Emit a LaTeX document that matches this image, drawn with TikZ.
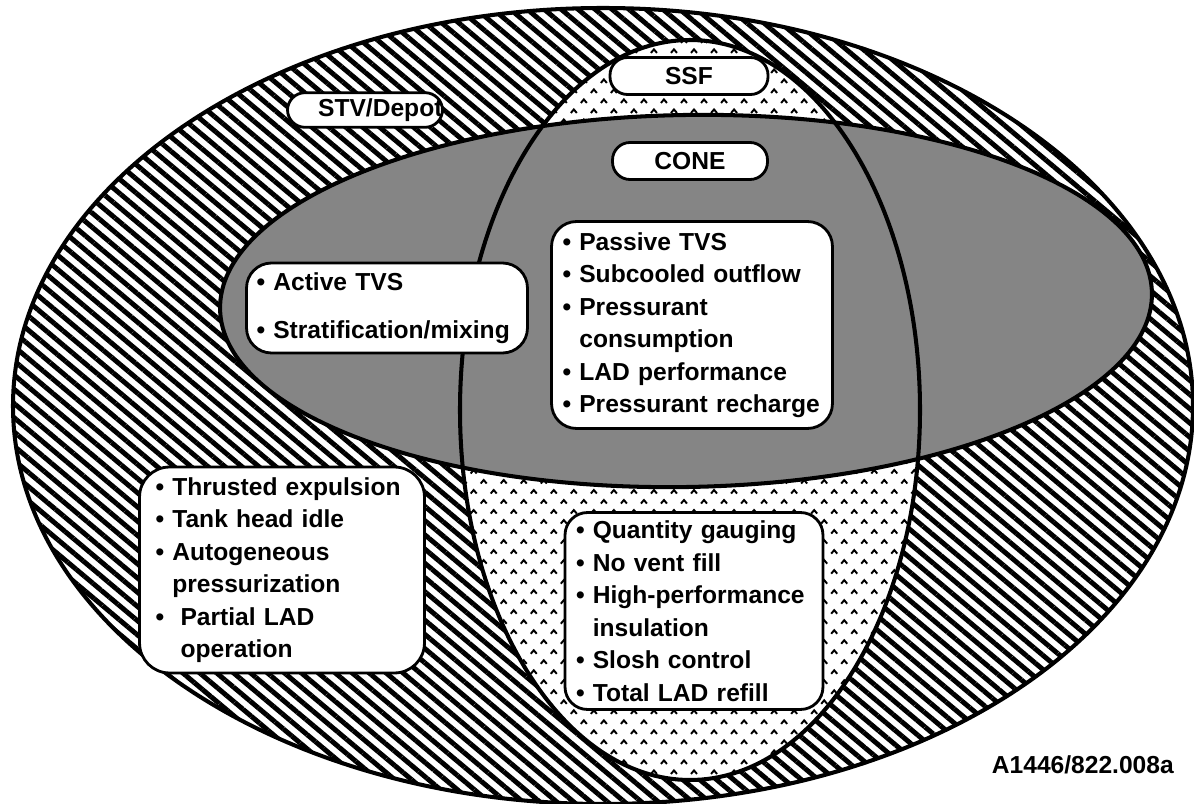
\documentclass[tikz,border=0pt]{standalone}
\usepackage{fontspec}
\setmainfont{Liberation Sans}
\usetikzlibrary{patterns,patterns.meta}

% small caret marks for the SSF region
\pgfdeclarepatternformonly{carets}{\pgfqpoint{-1pt}{-1pt}}{\pgfqpoint{11pt}{11pt}}{\pgfqpoint{11.4pt}{11.4pt}}{%
  \pgfsetlinewidth{1.1pt}
  \pgfpathmoveto{\pgfqpoint{0pt}{0pt}}\pgfpathlineto{\pgfqpoint{1.7pt}{2pt}}\pgfpathlineto{\pgfqpoint{3.4pt}{0pt}}
  \pgfpathmoveto{\pgfqpoint{5.7pt}{5.7pt}}\pgfpathlineto{\pgfqpoint{7.4pt}{7.7pt}}\pgfpathlineto{\pgfqpoint{9.1pt}{5.7pt}}
  \pgfusepath{stroke}}

\definecolor{conegray}{gray}{0.52}

\tikzset{
  tag/.style={draw, line width=1.6pt, fill=white, rounded corners=0.35cm, minimum height=0.74cm},
  listbox/.style={draw, line width=1.6pt, fill=white, rounded corners=0.5cm, align=left},
}

\begin{document}
\begin{tikzpicture}[x=0.02cm, y=-0.02cm, font=\fontsize{14}{18.5}\selectfont\bfseries]
\useasboundingbox (0,0) rectangle (1194,804);

% STV/Depot: outer hatched ellipse
\draw[line width=2.3pt, pattern={Lines[angle=-40,distance=6.2pt,line width=2.8pt]}]
  (603,406) ellipse [x radius=590, y radius=398];

% SSF: upright ellipse with caret marks
\fill[white] (690,410) ellipse [x radius=230, y radius=370];
\fill[pattern=carets] (690,410) ellipse [x radius=230, y radius=370];

% CONE: flat grey ellipse, then SSF outline again on top
\filldraw[fill=conegray, line width=2.3pt, rotate around={1:(686,301)}]
  (686,301) ellipse [x radius=466, y radius=186];
\draw[line width=2.3pt] (690,410) ellipse [x radius=230, y radius=370];

% region tags
\node[tag, minimum width=3.16cm] (ssf) at (689,76) {SSF};
\node[tag, text width=3.1cm, inner xsep=0pt, align=right, minimum height=0.68cm] (stv) at (365,110) {STV/Depot};
\node[tag, minimum width=3.1cm] (cone) at (690,161) {CONE};

% lists of experiments
\node[listbox, text width=5.22cm, inner xsep=0.2cm, minimum height=1.8cm] (active) at (387,308)
  {\textbullet\ Active TVS\\[0.3cm]\textbullet\ Stratification/mixing};
\node[listbox, text width=5.18cm, inner xsep=0.22cm, minimum height=4.14cm] (passive) at (692,325)
  {\textbullet\ Passive TVS\\
   \textbullet\ Subcooled outflow\\
   \textbullet\ Pressurant\\
   \hphantom{\textbullet\ }consumption\\
   \textbullet\ LAD performance\\
   \textbullet\ Pressurant recharge};
\node[listbox, rounded corners=0.6cm, text width=5.06cm, inner xsep=0.32cm, minimum height=4.12cm] (thrust) at (282,570)
  {\textbullet\ Thrusted expulsion\\
   \textbullet\ Tank head idle\\
   \textbullet\ Autogeneous\\
   \hphantom{\textbullet\ }pressurization\\
   \textbullet\ \ Partial LAD\\
   \hphantom{\textbullet\ \ }operation};
\node[listbox, rounded corners=0.45cm, text width=4.72cm, inner xsep=0.22cm, minimum height=3.94cm] (gauge) at (694,611)
  {\textbullet\ Quantity gauging\\
   \textbullet\ No vent fill\\
   \textbullet\ High-performance\\
   \hphantom{\textbullet\ }insulation\\
   \textbullet\ Slosh control\\
   \textbullet\ Total LAD refill};

% figure number
\node[anchor=east] (figid) at (1180,765) {A1446/822.008a};
\end{tikzpicture}
\end{document}
